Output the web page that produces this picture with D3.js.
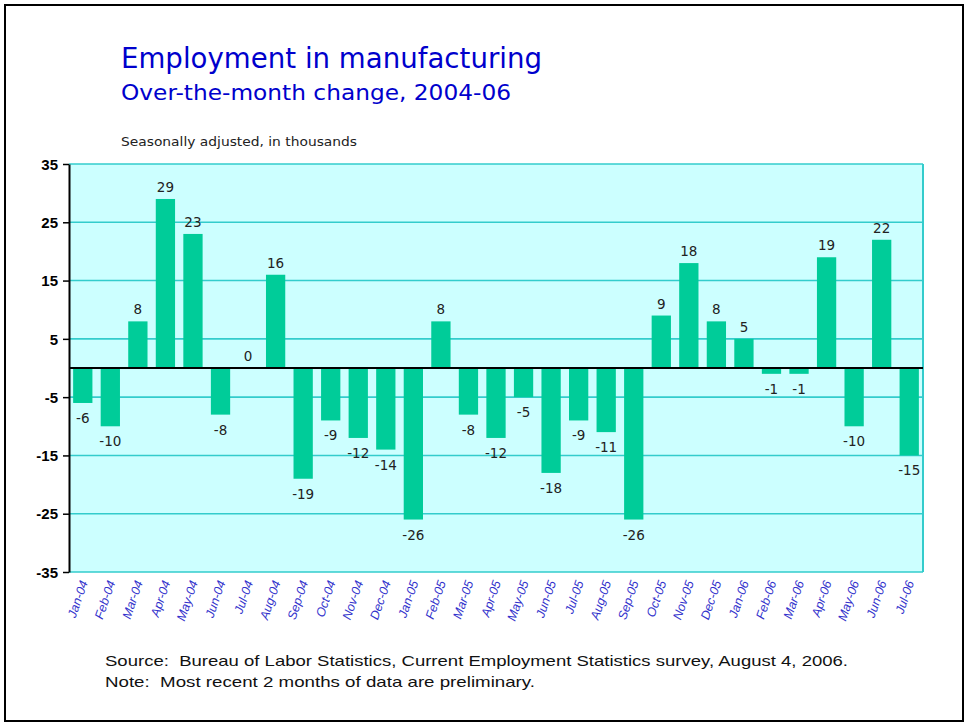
<!DOCTYPE html>
<html><head><meta charset="utf-8">
<script src="https://cdn.jsdelivr.net/npm/d3@7"></script>
<style>body{margin:0;background:#fff;} svg{display:block;} text{white-space:pre;}</style>
</head><body>
<svg id="c" width="967" height="725"></svg>
<script>
const months = ["Jan-04","Feb-04","Mar-04","Apr-04","May-04","Jun-04","Jul-04","Aug-04","Sep-04","Oct-04","Nov-04","Dec-04",
"Jan-05","Feb-05","Mar-05","Apr-05","May-05","Jun-05","Jul-05","Aug-05","Sep-05","Oct-05","Nov-05","Dec-05",
"Jan-06","Feb-06","Mar-06","Apr-06","May-06","Jun-06","Jul-06"];
const changes = [-6,-10,8,29,23,-8,0,16,-19,-9,-12,-14,-26,8,-8,-12,-5,-18,-9,-11,-26,9,18,8,5,-1,-1,19,-10,22,-15];
const yTicks = [35,25,15,5,-5,-15,-25,-35];

const svg = d3.select("#c");
const L = 69, R = 923, T = 164, B = 572;

svg.append("rect").attr("x",5).attr("y",5).attr("width",958).attr("height",716)
  .attr("fill","#fff").attr("stroke","#000").attr("stroke-width",2);

const x = d3.scaleBand().domain(months).range([L,R]).paddingInner(0.3).paddingOuter(0.15);
const y = d3.scaleLinear().domain([-35,35]).range([B,T]);

svg.append("rect").attr("x",L).attr("y",T).attr("width",R-L).attr("height",B-T).attr("fill","#CCFFFF");

svg.append("g").selectAll("line").data(yTicks).join("line")
  .attr("x1",L).attr("x2",R).attr("y1",d=>y(d)).attr("y2",d=>y(d))
  .attr("stroke","#33CCCC").attr("stroke-width",1.6);
svg.append("line").attr("x1",R).attr("x2",R).attr("y1",T).attr("y2",B).attr("stroke","#33CCCC").attr("stroke-width",2);

svg.append("g").selectAll("rect").data(changes).join("rect")
  .attr("x",(d,i)=>x(months[i]))
  .attr("width",x.bandwidth())
  .attr("y",d=>y(Math.max(0,d)))
  .attr("height",d=>Math.abs(y(d)-y(0)))
  .attr("fill","#00CC99");

svg.append("line").attr("x1",L).attr("x2",R).attr("y1",y(0)).attr("y2",y(0)).attr("stroke","#000").attr("stroke-width",2);

const yAxis = d3.axisLeft(y).tickValues(yTicks).tickSize(6).tickSizeOuter(0).tickFormat(d=>String(d));
const ga = svg.append("g").attr("transform",`translate(${L},0)`).call(yAxis);
ga.select(".domain").attr("stroke","#000").attr("stroke-width",2);
ga.selectAll(".tick line").attr("stroke","#000").attr("stroke-width",1.5);
ga.selectAll(".tick text").attr("x",-11).attr("dy","0.35em")
  .style("font-family","'Liberation Sans',Arial,sans-serif").style("font-size","15px").style("font-weight","bold").attr("fill","#000");

const xAxis = d3.axisBottom(x).tickSize(0);
const gx = svg.append("g").attr("transform",`translate(0,${B})`).call(xAxis);
gx.select(".domain").remove();
gx.selectAll(".tick text")
  .attr("text-anchor","end").attr("x",0).attr("y",0).attr("dy","0.35em")
  .attr("transform","translate(1,9) rotate(-71)")
  .style("font-family","'Liberation Sans',Arial,sans-serif").style("font-size","12.5px").style("font-style","italic")
  .attr("fill","#3333CC");

svg.append("g").selectAll("text").data(changes).join("text")
  .attr("x",(d,i)=>x(months[i])+x.bandwidth()/2)
  .attr("y",d=> d>=0 ? y(d)-7 : y(d)+20)
  .attr("text-anchor","middle")
  .style("font-family","'DejaVu Sans',Verdana,sans-serif").style("font-size","13.5px")
  .attr("fill","#222")
  .text(d=>d);

svg.append("text").attr("x",121).attr("y",68).attr("textLength",421).attr("lengthAdjust","spacingAndGlyphs")
  .style("font-family","'DejaVu Sans',Verdana,sans-serif").style("font-size","28px").attr("fill","#0000CC")
  .text("Employment in manufacturing");
svg.append("text").attr("x",121).attr("y",100).attr("textLength",390).attr("lengthAdjust","spacingAndGlyphs")
  .style("font-family","'DejaVu Sans',Verdana,sans-serif").style("font-size","22px").attr("fill","#0000CC")
  .text("Over-the-month change, 2004-06");
svg.append("text").attr("x",121).attr("y",146).attr("textLength",236).attr("lengthAdjust","spacingAndGlyphs")
  .style("font-family","'DejaVu Sans',Verdana,sans-serif").style("font-size","13px").attr("fill","#222")
  .text("Seasonally adjusted, in thousands");

svg.append("text").attr("x",105).attr("y",666).attr("textLength",743).attr("lengthAdjust","spacingAndGlyphs")
  .style("font-family","'Liberation Sans',Arial,sans-serif").style("font-size","15px").attr("fill","#111")
  .text("Source:  Bureau of Labor Statistics, Current Employment Statistics survey, August 4, 2006.");
svg.append("text").attr("x",105).attr("y",687).attr("textLength",430).attr("lengthAdjust","spacingAndGlyphs")
  .style("font-family","'Liberation Sans',Arial,sans-serif").style("font-size","15px").attr("fill","#111")
  .text("Note:  Most recent 2 months of data are preliminary.");
</script>
</body></html>
